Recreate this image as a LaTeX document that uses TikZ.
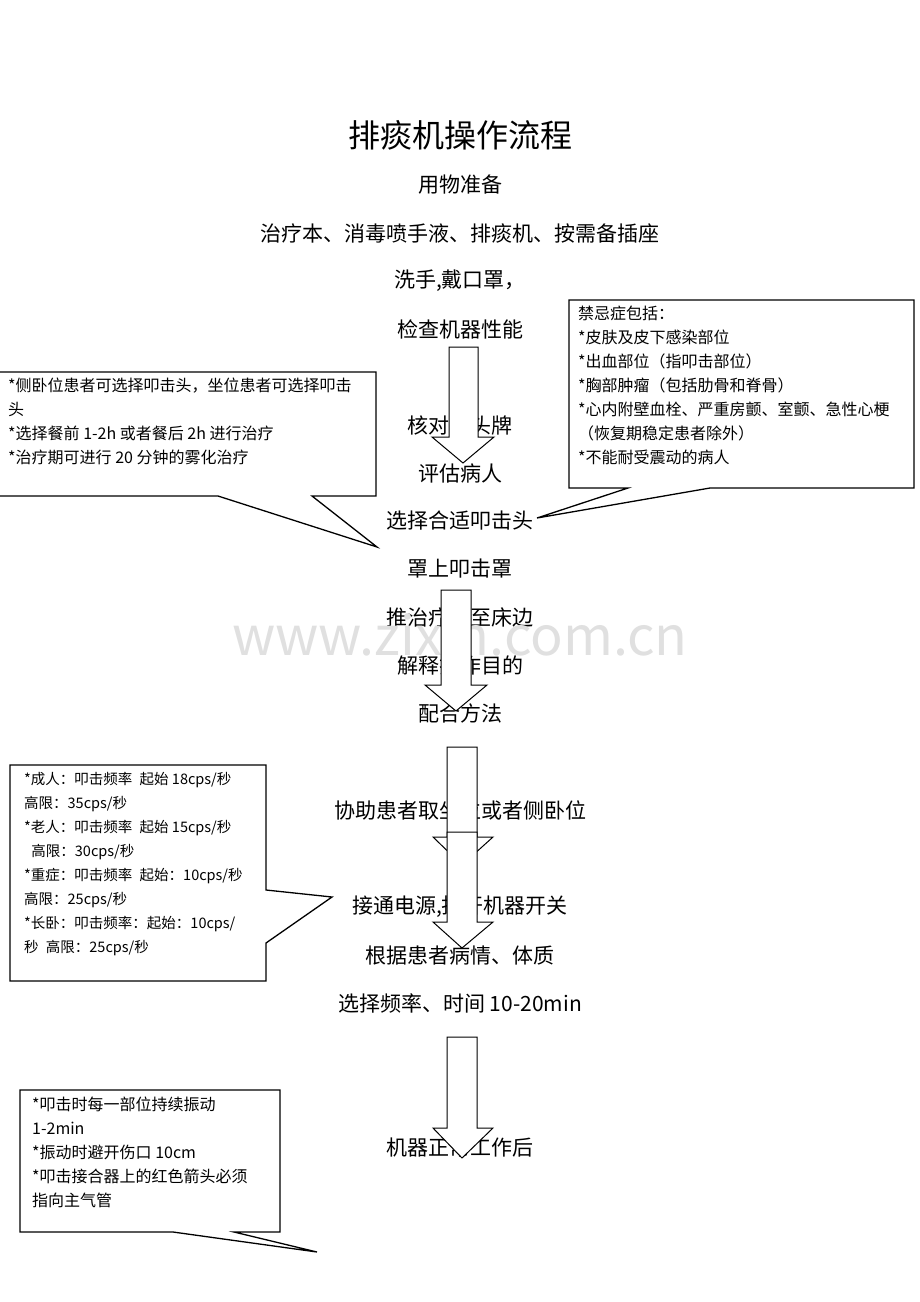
\documentclass[tikz,border=0pt]{standalone}
\usepackage{fontspec}
\setmainfont{Noto Sans CJK SC}
\begin{document}
\begin{tikzpicture}[x=1pt,y=-1pt,
  flowstep/.style={font=\fontsize{21}{24}\selectfont, anchor=center},
  note/.style={font=\fontsize{16}{24}\selectfont, anchor=north west, align=left, inner sep=0pt},
  callout/.style={draw=black, line width=1.3pt, fill=white},
  blk/.style={draw=black, line width=1pt, fill=white}]
\useasboundingbox (0,0) rectangle (920,1302);
\node[font=\fontsize{32}{36}\selectfont] (title) at (460,135) {排痰机操作流程};
\node[flowstep] (s1) at (460,185) {用物准备};
\node[flowstep] (s2) at (460,233) {治疗本、消毒喷手液、排痰机、按需备插座};
\node[flowstep] (s3) at (460,281) {洗手,戴口罩，};
\node[flowstep] (s4) at (460,329) {检查机器性能};
\node[flowstep] (s5) at (460,425) {核对床头牌};
\node[flowstep] (s6) at (460,473) {评估病人};
\node[flowstep] (s7) at (460,521) {选择合适叩击头};
\node[flowstep] (s8) at (460,569) {罩上叩击罩};
\node[flowstep] (s9) at (460,617) {推治疗车至床边};
\node[flowstep] (s10) at (460,665) {解释操作目的};
\node[flowstep] (s11) at (460,713) {配合方法};
\node[flowstep] (s12) at (460,810) {协助患者取坐位或者侧卧位};
\node[flowstep] (s13) at (460,907) {接通电源,打开机器开关};
\node[flowstep] (s14) at (460,955) {根据患者病情、体质};
\node[flowstep] (s15) at (460,1003) {选择频率、时间 10-20min};
\node[flowstep] (s16) at (460,1148) {机器正常工作后};
\node[font=\fontsize{54}{58}\selectfont, text=black!12] (wm) at (460,635) {www.zixin.com.cn};
% block arrows
\draw[blk] (449,347) -- (478,347) -- (478,437) -- (494,437) -- (463,463) -- (432,437) -- (449,437) -- cycle;
\draw[blk] (441,590) -- (471,590) -- (471,685) -- (487,685) -- (456,711) -- (425,685) -- (441,685) -- cycle;
\draw[blk] (447,747) -- (477,747) -- (477,837) -- (493,837) -- (462,865) -- (433,837) -- (447,837) -- cycle;
\draw[blk] (447,832) -- (477,832) -- (477,922) -- (493,922) -- (462,948) -- (433,922) -- (447,922) -- cycle;
\draw[blk] (447,1037) -- (477,1037) -- (477,1128) -- (493,1128) -- (462,1158) -- (433,1128) -- (447,1128) -- cycle;
% callouts
\coordinate (p1) at (377,547);
\draw[callout] (0,372) -- (376,372) -- (376,496) -- (312,496) -- (p1) -- (218,496) -- (0,496);
\node[note] (n1) at (8,378) {*侧卧位患者可选择叩击头，坐位患者可选择叩击\\头\\*选择餐前 1-2h 或者餐后 2h 进行治疗\\*治疗期可进行 20 分钟的雾化治疗};
\coordinate (p2) at (537,518);
\draw[callout] (569,300) -- (914,300) -- (914,488) -- (710,488) -- (p2) -- (628,488) -- (569,488) -- cycle;
\node[note] (n2) at (578,306) {禁忌症包括：\\*皮肤及皮下感染部位\\*出血部位（指叩击部位）\\*胸部肿瘤（包括肋骨和脊骨）\\*心内附壁血栓、严重房颤、室颤、急性心梗\\（恢复期稳定患者除外）\\*不能耐受震动的病人};
\coordinate (p3) at (332,897);
\draw[callout] (10,765) -- (266,765) -- (266,890) -- (p3) -- (266,943) -- (266,981) -- (10,981) -- cycle;
\node[note, font=\fontsize{14.5}{24}\selectfont] (n3) at (24,772) {*成人：叩击频率\enspace 起始 18cps/秒\\高限：35cps/秒\\*老人：叩击频率\enspace 起始 15cps/秒\\\enspace 高限：30cps/秒\\*重症：叩击频率\enspace 起始：10cps/秒\\高限：25cps/秒\\*长卧：叩击频率：起始：10cps/\\秒\enspace 高限：25cps/秒};
\coordinate (p4) at (317,1252);
\draw[callout] (20,1090) -- (280,1090) -- (280,1232) -- (234,1232) -- (p4) -- (173,1232) -- (20,1232) -- cycle;
\node[note] (n4) at (32,1097) {*叩击时每一部位持续振动\\1-2min\\*振动时避开伤口 10cm\\*叩击接合器上的红色箭头必须\\指向主气管};
\end{tikzpicture}
\end{document}
